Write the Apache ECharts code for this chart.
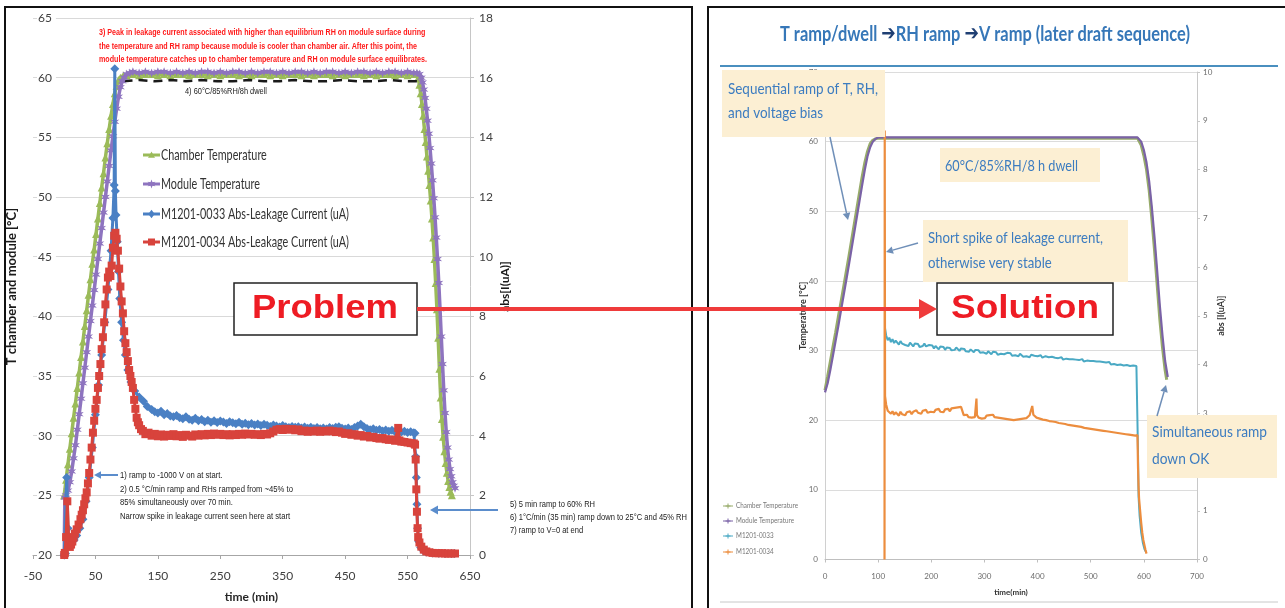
<!DOCTYPE html>
<html>
<head>
<meta charset="utf-8">
<script src="https://cdn.jsdelivr.net/npm/echarts@6.0.0/dist/echarts.min.js"></script>
<style>
  html, body { margin: 0; padding: 0; background: #ffffff; }
  #chart { width: 1285px; height: 608px; }
</style>
</head>
<body>
<div id="chart"></div>
<script>
// ---------------- Left chart: first damp-heat run (time [min], value) ----------------
const leftChamber = [[0,25.0],[3,26.3],[6,27.6],[9,28.9],[12,30.2],[15,31.5],[18,32.7],[21,34.0],[24,35.3],[27,36.6],[30,37.9],[33,39.2],[36,40.5],[39,41.8],[42,43.1],[45,44.4],[48,45.6],[51,46.9],[54,48.2],[57,49.5],[60,50.8],[63,52.0],[66,53.3],[69,54.5],[72,55.7],[75,56.8],[78,57.8],[81,58.7],[84,59.3],[87,59.8],[90,60.0],[95,60.2],[100,60.2],
  [110,60.3],[120,60.2],[130,60.3],[140,60.3],[150,60.2],[160,60.3],[170,60.2],[180,60.3],[190,60.3],[200,60.2],
  [210,60.3],[220,60.3],[230,60.2],[240,60.3],[250,60.2],[260,60.3],[270,60.3],[280,60.2],[290,60.3],[300,60.2],
  [310,60.3],[320,60.3],[330,60.2],[340,60.3],[350,60.2],[360,60.3],[370,60.3],[380,60.2],[390,60.3],[400,60.2],
  [410,60.3],[420,60.3],[430,60.2],[440,60.3],[450,60.2],[460,60.3],[470,60.3],[480,60.2],[490,60.3],[500,60.2],
  [510,60.3],[520,60.3],[530,60.2],[540,60.3],[550,60.2],[560,60.3],
  [565,60.3],[567,60.0],[569,59.4],[571,58.7],[573,57.8],[575,56.8],[577,55.7],[579,54.6],[581,53.4],[583,52.2],[585,51.0],[587,49.7],[589,48.2],[591,46.6],[593,44.8],[595,42.8],[597,40.6],[599,38.2],[601,35.6],[603,33.2],[605,31.4],[607,29.9],[609,28.7],[611,27.7],[613,26.9],[615,26.2],[617,25.7],[619,25.3],[621,25.0]];

const leftModule = [[0,20.0],[1,24.8],[3,25.0],[6,25.4],[9,26.1],[12,27.0],[15,28.1],[18,29.2],[21,30.5],[24,31.8],[27,33.1],[30,34.4],[33,35.7],[36,37.0],[39,38.3],[42,39.6],[45,40.9],[48,42.2],[51,43.5],[54,44.8],[57,46.1],[60,47.4],[63,48.7],[66,50.0],[69,51.3],[72,52.6],[75,53.9],[78,55.1],[81,56.3],[84,57.4],[87,58.4],[90,59.2],[93,59.7],[96,60.0],[100,60.3],[105,60.4],
  [110,60.5],[120,60.4],[130,60.5],[140,60.4],[150,60.5],[160,60.5],[170,60.4],[180,60.5],[190,60.4],[200,60.5],
  [210,60.4],[220,60.5],[230,60.5],[240,60.4],[250,60.5],[260,60.4],[270,60.5],[280,60.5],[290,60.4],[300,60.5],
  [310,60.4],[320,60.5],[330,60.5],[340,60.4],[350,60.5],[360,60.4],[370,60.5],[380,60.5],[390,60.4],[400,60.5],
  [410,60.4],[420,60.5],[430,60.5],[440,60.4],[450,60.5],[460,60.4],[470,60.5],[480,60.5],[490,60.4],[500,60.5],
  [510,60.4],[520,60.5],[530,60.5],[540,60.4],[550,60.5],[560,60.4],
  [565,60.4],[569,60.3],[572,60.0],[574,59.6],[576,59.0],[578,58.3],[580,57.4],[582,56.4],[584,55.3],[586,54.1],[588,52.8],[590,51.4],[592,49.9],[594,48.3],[596,46.6],[598,44.8],[600,42.8],[602,40.6],[604,38.3],[606,36.0],[608,33.8],[610,31.9],[612,30.3],[614,29.0],[616,28.0],[618,27.2],[620,26.6],[622,26.1],[624,25.8],[626,25.6]];

const leftSetPoint = [[95,59.7],[120,59.8],[145,59.7],[170,59.8],[195,59.7],[220,59.8],[245,59.7],[270,59.7],[295,59.8],[320,59.7],[345,59.7],[370,59.8],[395,59.7],[420,59.7],[445,59.8],[470,59.7],[495,59.7],[520,59.8],[545,59.7],[565,59.7]];

const leftCurrent33 = [[0,0.0],[2,0.05],[4,2.6],[6,0.9],[8,0.35],[12,0.4],[16,0.5],[20,0.65],[25,0.9],[30,1.2],[35,1.8],[40,2.6],[45,3.6],[50,4.7],[55,5.7],[60,6.7],[65,7.8],[70,8.9],[75,10.2],[78,11.3],[80,12.4],[81,16.3],[82,12.2],[83,11.4],[85,10.5],[87,9.5],[89,8.6],[92,7.8],[95,7.2],[98,6.7],[102,6.2],[107,5.8],[113,5.5],[120,5.3],[127,5.15],[133,4.98],[140,4.88],[145,4.8],[150,4.76],[155,4.82],[160,4.7],[165,4.74],[170,4.66],[175,4.63],[180,4.68],[185,4.6],[190,4.57],[195,4.63],[200,4.55],[205,4.52],[210,4.58],[215,4.5],[220,4.54],[225,4.47],[230,4.52],[235,4.45],[240,4.5],[245,4.44],[250,4.49],[255,4.46],[260,4.41],[265,4.47],[270,4.43],[275,4.4],[280,4.45],[285,4.38],[290,4.42],[295,4.37],[300,4.41],[305,4.36],[310,4.39],[315,4.34],[320,4.38],[325,4.35],[330,4.31],[335,4.36],[340,4.32],[345,4.29],[350,4.34],[355,4.3],[360,4.27],[365,4.31],[370,4.28],[375,4.3],[380,4.26],[385,4.29],[390,4.25],[395,4.28],[400,4.24],[405,4.27],[410,4.23],[415,4.26],[420,4.22],[425,4.27],[430,4.24],[435,4.28],[440,4.3],[445,4.25],[450,4.22],[455,4.26],[460,4.21],[465,4.27],[470,4.32],[475,4.38],[480,4.3],[485,4.24],[490,4.2],[495,4.23],[500,4.18],[505,4.21],[510,4.16],[515,4.19],[520,4.15],[525,4.18],[530,4.13],[535,4.16],[540,4.12],[545,4.15],[550,4.11],[555,4.13],[560,4.1],[562,4.08],[563,3.3],[564,2.6],[565,1.7],[566,0.9],[568,0.45],[571,0.25],[575,0.15],[580,0.1],[590,0.07],[600,0.06],[610,0.05],[620,0.05],[625,0.05]];

const leftCurrent34 = [[0,0.0],[1,0.07],[3,0.6],[5,1.8],[7,0.6],[9,0.27],[11,0.35],[13,0.45],[15,0.58],[17,0.72],[20,0.86],[23,1.02],[26,1.2],[28,1.35],[30,1.5],[32,1.7],[34,1.9],[36,2.1],[38,2.4],[40,2.75],[42,3.2],[44,3.6],[46,4.1],[48,4.5],[50,4.9],[52,5.2],[54,5.6],[56,6.0],[58,6.4],[60,6.9],[62,7.3],[64,7.8],[66,8.4],[68,8.9],[70,9.3],[72,9.5],[74,9.35],[76,9.7],[78,10.3],[80,10.7],[82,10.8],[84,10.6],[86,10.2],[88,9.6],[90,9.0],[92,8.5],[94,8.1],[96,7.5],[98,7.1],[100,6.8],[102,6.5],[104,6.2],[106,6.0],[108,5.8],[110,5.6],[112,5.2],[114,4.9],[116,4.6],[118,4.45],[120,4.35],[123,4.22],[126,4.16],[130,4.05],[135,4.1],[140,4.0],[145,4.06],[150,3.98],[155,4.04],[160,3.97],[165,4.03],[170,3.99],[175,4.05],[180,3.98],[185,4.02],[190,3.96],[195,4.03],[200,4.0],[205,3.97],[210,4.04],[215,4.0],[220,4.05],[225,4.01],[230,4.06],[235,4.02],[240,4.07],[245,4.03],[250,4.06],[255,4.02],[260,4.05],[265,4.01],[270,4.05],[275,4.02],[280,4.06],[285,4.03],[290,4.07],[295,4.04],[300,4.06],[305,4.03],[310,4.05],[315,4.02],[320,4.06],[325,4.04],[330,4.08],[335,4.14],[340,4.2],[345,4.22],[350,4.19],[355,4.23],[360,4.2],[365,4.22],[370,4.18],[375,4.21],[380,4.15],[385,4.17],[390,4.13],[395,4.16],[400,4.14],[405,4.17],[410,4.13],[415,4.16],[420,4.14],[425,4.17],[430,4.15],[435,4.12],[440,4.14],[445,4.1],[450,4.06],[455,4.08],[460,4.03],[465,4.05],[470,4.0],[475,4.02],[480,3.97],[485,3.99],[490,3.94],[495,3.96],[500,3.92],[505,3.9],[510,3.92],[515,3.88],[520,3.86],[525,3.87],[530,3.83],[533,3.85],[535,4.26],[537,3.84],[540,3.8],[545,3.79],[550,3.77],[555,3.75],[560,3.74],[562,3.7],[563,3.2],[564,2.2],[565,1.45],[566,0.9],[567,0.6],[569,0.42],[572,0.28],[576,0.18],[580,0.12],[585,0.09],[590,0.07],[595,0.06],[600,0.06],[605,0.06],[610,0.05],[615,0.05],[620,0.05],[626,0.05]];

// ---------------- Right chart: later draft sequence (time [min], value) ----------------
const rightChamber = [[0,24.3],[5,26.3],[10,28.4],[15,30.5],[20,32.6],[25,34.8],[30,36.9],[35,39.1],[40,41.3],[45,43.5],[50,45.8],[55,48.1],[60,50.4],[65,52.7],[70,55.0],[75,57.0],[80,58.6],[85,59.7],[90,60.2],[95,60.4],[100,60.5],[150,60.5],[200,60.5],[250,60.5],[300,60.5],[350,60.5],[400,60.5],[450,60.5],[500,60.5],[550,60.5],[588,60.5],[591,60.3],[595,59.5],[600,58.0],[605,56.0],[610,53.0],[615,49.0],[620,44.5],[625,39.5],[630,34.5],[635,30.5],[640,27.2],[643,25.8]];

const rightModule = [[0,24.0],[5,25.3],[10,27.2],[15,29.3],[20,31.4],[25,33.5],[30,35.7],[35,37.9],[40,40.1],[45,42.3],[50,44.6],[55,46.9],[60,49.2],[65,51.5],[70,53.8],[75,56.0],[80,57.9],[85,59.2],[90,60.0],[95,60.4],[100,60.6],[150,60.6],[200,60.6],[250,60.6],[300,60.6],[350,60.6],[400,60.6],[450,60.6],[500,60.6],[550,60.6],[588,60.6],[591,60.5],[595,60.0],[600,58.8],[605,57.0],[610,54.3],[615,50.6],[620,46.3],[625,41.5],[630,36.5],[635,32.2],[640,28.5],[645,26.2]];

const rightCurrent33 = [[113,4.74],[115,4.60],[118,4.50],[121,4.55],[124,4.46],[127,4.52],[130,4.44],[133,4.49],[136,4.47],[139,4.41],[142,4.48],[145,4.43],[148,4.46],[151,4.40],[154,4.44],[157,4.38],[160,4.45],[163,4.41],[166,4.37],[169,4.43],[172,4.39],[175,4.42],[178,4.36],[181,4.40],[184,4.38],[187,4.43],[190,4.37],[193,4.35],[196,4.40],[199,4.36],[202,4.39],[205,4.33],[208,4.38],[211,4.35],[214,4.31],[217,4.37],[220,4.34],[223,4.36],[226,4.30],[229,4.35],[232,4.32],[235,4.34],[238,4.29],[241,4.33],[244,4.30],[247,4.35],[250,4.31],[253,4.28],[256,4.33],[259,4.29],[262,4.32],[265,4.27],[268,4.30],[271,4.26],[274,4.31],[277,4.28],[280,4.25],[283,4.30],[286,4.27],[289,4.29],[292,4.24],[295,4.28],[298,4.25],[301,4.27],[304,4.22],[307,4.27],[310,4.24],[313,4.21],[316,4.26],[319,4.23],[322,4.25],[325,4.20],[328,4.24],[331,4.22],[334,4.26],[337,4.21],[340,4.19],[343,4.24],[346,4.21],[349,4.23],[352,4.18],[355,4.22],[358,4.19],[361,4.21],[364,4.17],[367,4.22],[370,4.18],[373,4.16],[376,4.20],[379,4.17],[382,4.19],[385,4.15],[388,4.20],[391,4.16],[394,4.18],[397,4.14],[400,4.17],[403,4.15],[406,4.19],[409,4.14],[412,4.12],[415,4.17],[418,4.13],[421,4.15],[424,4.11],[427,4.16],[430,4.12],[433,4.14],[436,4.10],[439,4.13],[442,4.11],[445,4.15],[448,4.10],[451,4.08],[454,4.12],[457,4.09],[460,4.11],[463,4.07],[466,4.11],[469,4.08],[472,4.10],[475,4.06],[478,4.09],[481,4.07],[484,4.11],[487,4.06],[490,4.04],[493,4.08],[496,4.05],[499,4.07],[502,4.03],[505,4.07],[508,4.04],[511,4.06],[514,4.02],[517,4.06],[520,4.03],[523,4.05],[526,4.01],[529,4.04],[532,4.02],[535,4.05],[538,4.00],[541,4.03],[544,4.01],[547,4.04],[550,3.99],[553,4.02],[556,4.00],[559,4.03],[562,3.98],[565,4.01],[568,3.99],[571,4.02],[574,3.97],[577,4.00],[580,3.98],[583,4.01],[586,3.97],[588,3.99],[589,2.2],[590,1.3],[592,0.9],[595,0.55],[598,0.35],[601,0.22],[604,0.15]];

const rightCurrent34 = [[112,0],[112.4,8.8],[113,3.35],[115,3.18],[118,3.05],[121,3.09],[124,2.99],[127,3.04],[130,2.97],[133,3.02],[136,3.00],[139,2.95],[142,3.03],[145,2.98],[148,3.01],[151,2.96],[154,3.02],[157,2.99],[160,3.04],[163,2.98],[166,3.03],[169,3.00],[172,3.06],[175,3.01],[178,3.04],[181,2.99],[184,3.05],[187,3.02],[190,3.07],[193,3.01],[196,3.05],[199,3.03],[202,3.06],[205,3.02],[208,3.07],[211,3.04],[214,3.09],[217,3.03],[220,3.06],[223,3.02],[226,3.08],[229,3.05],[232,3.09],[235,3.04],[238,3.10],[241,3.06],[244,3.11],[247,3.07],[250,3.12],[253,3.08],[256,3.13],[259,3.09],[261,2.96],[264,2.93],[267,2.97],[270,2.92],[273,2.95],[276,2.91],[279,2.94],[282,2.92],[284,2.95],[285,3.30],[286,2.96],[289,2.91],[292,2.94],[295,2.89],[298,2.93],[301,2.90],[304,2.95],[307,2.92],[310,2.96],[313,2.93],[316,2.97],[319,2.92],[322,2.95],[325,2.91],[328,2.94],[331,2.90],[334,2.93],[337,2.89],[340,2.92],[343,2.88],[346,2.91],[349,2.87],[352,2.90],[355,2.86],[358,2.90],[361,2.87],[364,2.91],[367,2.88],[370,2.92],[373,2.89],[376,2.93],[379,2.90],[382,2.94],[385,2.96],[388,2.93],[390,3.15],[392,2.97],[395,2.94],[398,2.91],[401,2.93],[404,2.89],[407,2.91],[410,2.87],[413,2.90],[416,2.86],[419,2.88],[422,2.84],[425,2.87],[428,2.83],[431,2.86],[434,2.82],[437,2.84],[440,2.80],[443,2.83],[446,2.79],[449,2.82],[452,2.78],[455,2.80],[458,2.76],[461,2.79],[464,2.75],[467,2.78],[470,2.74],[473,2.77],[476,2.73],[479,2.75],[482,2.72],[485,2.74],[488,2.70],[491,2.73],[494,2.69],[497,2.72],[500,2.68],[503,2.71],[506,2.67],[509,2.70],[512,2.66],[515,2.69],[518,2.65],[521,2.68],[524,2.64],[527,2.67],[530,2.63],[533,2.66],[536,2.62],[539,2.65],[542,2.61],[545,2.64],[548,2.60],[551,2.63],[554,2.59],[557,2.62],[560,2.58],[563,2.61],[566,2.57],[569,2.60],[572,2.56],[575,2.59],[578,2.55],[581,2.58],[584,2.54],[587,2.56],[588,2.55],[589,1.9],[590,1.5],[591,1.25],[593,1.0],[595,0.75],[597,0.55],[599,0.4],[601,0.3],[603,0.2],[605,0.12]];

// ---------------- Names and annotation texts ----------------
const leftSeriesNames = ['Chamber Temperature', 'Module Temperature', 'M1201-0033 Abs-Leakage Current (uA)', 'M1201-0034 Abs-Leakage Current (uA)'];
const rightSeriesNames = ['Chamber Temperature', 'Module Temperature', 'M1201-0033', 'M1201-0034'];
const peakNote = [
  '3) Peak in leakage current associated with higher than equilibrium RH on module surface during',
  'the temperature and RH ramp because module is cooler than chamber air. After this point, the',
  'module temperature catches up to chamber temperature and RH on module surface equilibrates.'
];
const dwellNote = '4) 60\u00b0C/85%RH/8h dwell';
const startNote = [
  '1) ramp to -1000 V on at start.',
  '2) 0.5 \u00b0C/min ramp and RHs ramped from ~45% to',
  '85% simultaneously over 70 min.',
  'Narrow spike in leakage current seen here at start'
];
const endNote = [
  '5) 5 min ramp to 60% RH',
  '6) 1\u00b0C/min (35 min) ramp down to 25\u00b0C and 45% RH',
  '7) ramp to V=0 at end'
];
const titleParts = [['t', 'T ramp/dwell '], ['a', '\u2794'], ['t', 'RH ramp '], ['a', '\u2794'], ['t', 'V ramp (later draft sequence)']];
const sequentialNote = ['Sequential ramp of T, RH,', 'and voltage bias'];
const dwellBoxNote = '60\u00b0C/85%RH/8 h dwell';
const spikeNote = ['Short spike of leakage current,', 'otherwise very stable'];
const rampDownNote = ['Simultaneous ramp', 'down OK'];

// ---------------- Styling ----------------
const C = {
  green: '#9bbb59', purple: '#8e74bf', blue: '#4a80c4', red: '#d8433c',
  teal: '#4aa9c4', orange: '#ec8d3e', rGreen: '#97ab6a', rPurple: '#7a62a6',
  note: '#3c7cc0', box: '#fcefd3', arrowBlue: '#5b8dcc', grid: '#d9d9d9'
};
const UI = 'Lato, "Noto Sans", sans-serif';
const ARIAL = '"Liberation Sans", Arial, sans-serif';

const measureCtx = document.createElement('canvas').getContext('2d');
function measure(str, size, weight, family) {
  measureCtx.font = (weight || 'normal') + ' ' + size + 'px ' + family;
  return measureCtx.measureText(str).width;
}
// Text lines squeezed horizontally to a given width (condensed look of the slide fonts)
function textLines(lines, x, ys, width, o) {
  const w = Math.max.apply(null, lines.map(s => measure(s, o.size, o.weight, o.family)));
  const sx = width / w;
  return lines.map((s, i) => ({
    type: 'text', x: x, y: ys[i], scaleX: sx, z: 120,
    style: {
      text: s, fill: o.color, fontSize: o.size, fontWeight: o.weight || 'normal', fontFamily: o.family,
      textAlign: o.align || 'left', align: o.align || 'left',
      textVerticalAlign: 'middle', verticalAlign: 'middle'
    }
  }));
}
function arrow(x1, y1, x2, y2, color, width, head) {
  const a = Math.atan2(y2 - y1, x2 - x1);
  const hx = x2 - head * Math.cos(a), hy = y2 - head * Math.sin(a);
  const px = Math.sin(a) * head * 0.55, py = -Math.cos(a) * head * 0.55;
  return [
    { type: 'line', z: 125, shape: { x1: x1, y1: y1, x2: hx, y2: hy }, style: { stroke: color, lineWidth: width } },
    { type: 'polygon', z: 125, shape: { points: [[x2, y2], [hx + px, hy + py], [hx - px, hy - py]] }, style: { fill: color } }
  ];
}
function box(x, y, w, h, fill, stroke, lw) {
  return { type: 'rect', z: 110, shape: { x: x, y: y, width: w, height: h },
    style: { fill: fill, stroke: stroke || null, lineWidth: lw || 0 } };
}
function starPoints(cx, cy, r) {
  const pts = [];
  for (let i = 0; i < 12; i++) {
    const ang = -Math.PI / 2 + i * Math.PI / 6;
    const rr = i % 2 === 0 ? r : r * 0.42;
    pts.push([cx + rr * Math.cos(ang), cy + rr * Math.sin(ang)]);
  }
  return pts;
}
const starSymbol = 'path://' + starPoints(5, 5, 5).map((p, i) => (i ? 'L' : 'M') + p[0].toFixed(2) + ',' + p[1].toFixed(2)).join('') + 'Z';

function marker(kind, cx, cy, s, color) {
  if (kind === 'triangle') return { type: 'polygon', z: 122, shape: { points: [[cx, cy - s], [cx + s, cy + s * 0.8], [cx - s, cy + s * 0.8]] }, style: { fill: color } };
  if (kind === 'diamond') return { type: 'polygon', z: 122, shape: { points: [[cx, cy - s * 1.2], [cx + s * 0.9, cy], [cx, cy + s * 1.2], [cx - s * 0.9, cy]] }, style: { fill: color } };
  if (kind === 'rect') return { type: 'rect', z: 122, shape: { x: cx - s, y: cy - s, width: 2 * s, height: 2 * s }, style: { fill: color } };
  if (kind === 'star') return { type: 'polygon', z: 122, shape: { points: starPoints(cx, cy, s * 1.3) }, style: { fill: color } };
  if (kind === 'plus') return { type: 'group', z: 122, children: [
    { type: 'line', z: 122, shape: { x1: cx - s, y1: cy, x2: cx + s, y2: cy }, style: { stroke: color, lineWidth: 1 } },
    { type: 'line', z: 122, shape: { x1: cx, y1: cy - s, x2: cx, y2: cy + s }, style: { stroke: color, lineWidth: 1 } }] };
}

// ---------------- Decorations ----------------
const graphics = [];
// panel frames
graphics.push({ type: 'rect', z: 90, shape: { x: 5, y: 7, width: 687, height: 640 }, style: { fill: null, stroke: '#111', lineWidth: 2 } });
graphics.push({ type: 'rect', z: 90, shape: { x: 708, y: 7, width: 600, height: 640 }, style: { fill: null, stroke: '#111', lineWidth: 2 } });
// slide title rule and footer rule
graphics.push({ type: 'line', z: 90, shape: { x1: 720, y1: 66, x2: 1278, y2: 66 }, style: { stroke: '#4a8fbf', lineWidth: 2 } });
graphics.push({ type: 'line', z: 90, shape: { x1: 720, y1: 602, x2: 1278, y2: 602 }, style: { stroke: '#c8c8c8', lineWidth: 1 } });

// left chart notes
graphics.push(...textLines(peakNote, 99, [33, 47, 60], 328, { size: 9, weight: 'bold', family: ARIAL, color: '#ff1a1a' }));
graphics.push(...textLines([dwellNote], 185, [92], 82, { size: 9, family: ARIAL, color: '#222' }));
graphics.push(...textLines(startNote, 120, [476, 490, 503, 517], 173, { size: 9, family: ARIAL, color: '#222' }));
graphics.push(...textLines(endNote, 510, [505, 518, 531], 177, { size: 9, family: ARIAL, color: '#222' }));
graphics.push(...arrow(118, 475, 94, 475, C.arrowBlue, 2, 7));
graphics.push(...arrow(498, 510, 430, 510, C.arrowBlue, 2, 8));

// left legend
const leftLegendKinds = [['triangle', C.green], ['star', C.purple], ['diamond', C.blue], ['rect', C.red]];
const leftLegendY = [155, 184, 214, 242];
leftSeriesNames.forEach((n, i) => {
  const y = leftLegendY[i], k = leftLegendKinds[i];
  graphics.push({ type: 'line', z: 121, shape: { x1: 143, y1: y, x2: 160, y2: y }, style: { stroke: k[1], lineWidth: 3 } });
  graphics.push(marker(k[0], 151.5, y, 3.5, k[1]));
});
const lw = Math.max.apply(null, leftSeriesNames.map(s => measure(s, 15, 'normal', UI)));
leftSeriesNames.forEach((n, i) => {
  graphics.push(...textLines([n], 161, [leftLegendY[i]], measure(n, 15, 'normal', UI) * 188 / lw, { size: 15, family: UI, color: '#333' }));
});

// Problem / Solution boxes with connecting arrow
graphics.push(box(234, 283, 183, 52, '#fff', '#222', 1.5));
graphics.push(box(937, 283, 176, 52, '#fff', '#222', 1.5));
graphics.push(...textLines(['Problem'], 325, [309], 146, { size: 33, weight: 'bold', family: ARIAL, color: '#ee1c24', align: 'center' }));
graphics.push(...textLines(['Solution'], 1025, [309], 148, { size: 33, weight: 'bold', family: ARIAL, color: '#ee1c24', align: 'center' }));
graphics.push(...arrow(417, 309, 937, 309, '#ef3b3b', 4, 18));

// right slide title (arrows in dark navy)
(function () {
  const tFont = { size: 20, family: UI, weight: 'bold' }, aFont = { size: 21, family: '"DejaVu Sans", sans-serif', weight: 'bold' };
  let w = 0;
  titleParts.forEach(p => { w += p[0] === 't' ? measure(p[1], tFont.size, tFont.weight, tFont.family) : measure(p[1], aFont.size, aFont.weight, aFont.family); });
  graphics.push({
    type: 'text', x: 985, y: 35, scaleX: 410 / w, z: 120,
    style: {
      text: titleParts.map(p => '{' + p[0] + '|' + p[1] + '}').join(''),
      textAlign: 'center', align: 'center', textVerticalAlign: 'middle', verticalAlign: 'middle',
      rich: {
        t: { fill: '#3677b8', fontSize: tFont.size, fontFamily: tFont.family, fontWeight: tFont.weight },
        a: { fill: '#1f3f73', fontSize: aFont.size, fontFamily: aFont.family, fontWeight: aFont.weight }
      }
    }
  });
})();

// right chart callouts
graphics.push(box(722, 70, 163, 67, C.box));
graphics.push(...textLines(sequentialNote, 728, [89, 113], 150, { size: 15, family: UI, color: C.note }));
graphics.push(box(940, 148, 160, 34, C.box));
graphics.push(...textLines([dwellBoxNote], 945, [166], 133, { size: 15, family: UI, color: C.note }));
graphics.push(box(923, 220, 205, 62, C.box));
graphics.push(...textLines(spikeNote, 928, [238, 263], 175, { size: 15, family: UI, color: C.note }));
graphics.push(box(1147, 415, 130, 63, C.box));
graphics.push(...textLines(rampDownNote, 1152, [432, 459], 115, { size: 15, family: UI, color: C.note }));
graphics.push(...arrow(830, 137, 848, 220, '#6f8fb8', 1.5, 7));
graphics.push(...arrow(918, 243, 886, 252, '#6f8fb8', 1.5, 7));
graphics.push(...arrow(1157, 416, 1166, 385, '#6f8fb8', 1.5, 7));

// right legend
const rightLegendColors = [C.rGreen, C.rPurple, C.teal, C.orange];
const rightLegendY = [506, 521, 536, 552];
rightSeriesNames.forEach((n, i) => {
  const y = rightLegendY[i];
  graphics.push({ type: 'line', z: 121, shape: { x1: 723, y1: y, x2: 733, y2: y }, style: { stroke: rightLegendColors[i], lineWidth: 1 } });
  graphics.push(marker('plus', 728, y, 2.5, rightLegendColors[i]));
});
const rw = measure(rightSeriesNames[0], 7, 'normal', UI);
rightSeriesNames.forEach((n, i) => {
  graphics.push(...textLines([n], 736, [rightLegendY[i]], measure(n, 7, 'normal', UI) * 62 / rw, { size: 7, family: UI, color: '#777' }));
});

// ---------------- Chart ----------------
const chart = echarts.init(document.getElementById('chart'), null, { renderer: 'canvas' });
const axisLabelDark = { color: '#404040', fontFamily: UI, fontSize: 12 };
const axisLabelSmall = { color: '#6d6d6d', fontFamily: UI, fontSize: 8 };

chart.setOption({
  animation: false,
  backgroundColor: '#ffffff',
  grid: [
    { left: 33, top: 18, width: 437, height: 537, show: false, outerBoundsMode: 'none' },
    { left: 825, top: 72, width: 372, height: 487.5, show: false, outerBoundsMode: 'none' }
  ],
  xAxis: [
    { type: 'value', gridIndex: 0, min: -50, max: 650, interval: 100,
      axisLine: { onZero: false, lineStyle: { color: '#a6a6a6' } },
      axisTick: { show: true, inside: false, length: 4, lineStyle: { color: '#a6a6a6' } },
      axisLabel: Object.assign({ margin: 15 }, axisLabelDark), splitLine: { show: false },
      name: 'time (min)', nameLocation: 'middle', nameGap: 36, nameMoveOverlap: false,
      nameTextStyle: { fontFamily: UI, fontWeight: 'bold', fontSize: 12, color: '#262626' } },
    { type: 'value', gridIndex: 1, min: 0, max: 700, interval: 100,
      axisLine: { onZero: false, lineStyle: { color: '#bfbfbf' } },
      axisTick: { show: true, length: 3, lineStyle: { color: '#bfbfbf' } },
      axisLabel: Object.assign({ margin: 13 }, axisLabelSmall), splitLine: { show: false },
      name: 'time(min)', nameLocation: 'middle', nameGap: 29, nameMoveOverlap: false,
      nameTextStyle: { fontFamily: UI, fontWeight: 'bold', fontSize: 8, color: '#333' } }
  ],
  yAxis: [
    { type: 'value', gridIndex: 0, min: 20, max: 65, interval: 5, position: 'left',
      axisLine: { show: false }, axisTick: { show: false },
      axisLabel: Object.assign({ inside: true, margin: 4, backgroundColor: '#ffffff', padding: [1, 4, 1, 1] }, axisLabelDark),
      splitLine: { show: true, lineStyle: { color: C.grid, width: 1 } },
      name: 'T chamber and module [\u00b0C]', nameLocation: 'middle', nameGap: 15, nameRotate: 90, nameMoveOverlap: false,
      nameTextStyle: { fontFamily: UI, fontWeight: 'bold', fontSize: 13, color: '#1a1a1a' } },
    { type: 'value', gridIndex: 0, min: 0, max: 18, interval: 2, position: 'right',
      axisLine: { show: true, lineStyle: { color: '#c6c6c6' } },
      axisTick: { show: true, length: 4, lineStyle: { color: '#c6c6c6' } },
      axisLabel: Object.assign({ margin: 9 }, axisLabelDark), splitLine: { show: false },
      name: 'abs[I(uA)]', nameLocation: 'middle', nameGap: 29, nameRotate: 90, nameMoveOverlap: false,
      nameTextStyle: { fontFamily: UI, fontWeight: 'bold', fontSize: 12, color: '#1a1a1a' } },
    { type: 'value', gridIndex: 1, min: 0, max: 70, interval: 10, position: 'left',
      axisLine: { show: true, lineStyle: { color: '#d0d0d0' } }, axisTick: { show: false },
      axisLabel: Object.assign({ margin: 7 }, axisLabelSmall),
      splitLine: { show: true, lineStyle: { color: '#dcdcdc', width: 1 } },
      name: 'Temperature [\u00b0C]', nameLocation: 'middle', nameGap: 17, nameRotate: 90, nameMoveOverlap: false,
      nameTextStyle: { fontFamily: UI, fontWeight: 'bold', fontSize: 9, color: '#333' } },
    { type: 'value', gridIndex: 1, min: 0, max: 10, interval: 1, position: 'right',
      axisLine: { show: true, lineStyle: { color: '#c8c8c8' } },
      axisTick: { show: true, length: 3, lineStyle: { color: '#c8c8c8' } },
      axisLabel: Object.assign({ margin: 6 }, axisLabelSmall), splitLine: { show: false },
      name: 'abs [I(uA)]', nameLocation: 'middle', nameGap: 20, nameRotate: 90, nameMoveOverlap: false,
      nameTextStyle: { fontFamily: UI, fontWeight: 'bold', fontSize: 9, color: '#333' } }
  ],
  series: [
    { name: leftSeriesNames[0], type: 'line', xAxisIndex: 0, yAxisIndex: 0, data: leftChamber, z: 2,
      symbol: 'triangle', symbolSize: 8, lineStyle: { width: 3.5, color: C.green }, itemStyle: { color: C.green } },
    { name: 'Chamber set point', type: 'line', xAxisIndex: 0, yAxisIndex: 0, data: leftSetPoint, z: 3,
      symbol: 'none', lineStyle: { width: 2.5, color: '#1a1a1a', type: [9, 6] } },
    { name: leftSeriesNames[1], type: 'line', xAxisIndex: 0, yAxisIndex: 0, data: leftModule, z: 4,
      symbol: starSymbol, symbolSize: 9, lineStyle: { width: 3.5, color: C.purple }, itemStyle: { color: C.purple } },
    { name: leftSeriesNames[2], type: 'line', xAxisIndex: 0, yAxisIndex: 1, data: leftCurrent33, z: 5,
      symbol: 'diamond', symbolSize: 9, lineStyle: { width: 3, color: C.blue }, itemStyle: { color: C.blue } },
    { name: leftSeriesNames[3], type: 'line', xAxisIndex: 0, yAxisIndex: 1, data: leftCurrent34, z: 6,
      symbol: 'rect', symbolSize: 8, lineStyle: { width: 3, color: C.red }, itemStyle: { color: C.red } },

    { name: rightSeriesNames[0], type: 'line', xAxisIndex: 1, yAxisIndex: 2, data: rightChamber, z: 2,
      symbol: 'none', lineStyle: { width: 3, color: C.rGreen } },
    { name: rightSeriesNames[1], type: 'line', xAxisIndex: 1, yAxisIndex: 2, data: rightModule, z: 3,
      symbol: 'none', lineStyle: { width: 2.2, color: C.rPurple } },
    { name: rightSeriesNames[2], type: 'line', xAxisIndex: 1, yAxisIndex: 3, data: rightCurrent33, z: 4,
      symbol: 'none', lineStyle: { width: 2, color: C.teal } },
    { name: rightSeriesNames[3], type: 'line', xAxisIndex: 1, yAxisIndex: 3, data: rightCurrent34, z: 5,
      symbol: 'none', lineStyle: { width: 2.2, color: C.orange } }
  ],
  graphic: { elements: graphics }
});
</script>
</body>
</html>
